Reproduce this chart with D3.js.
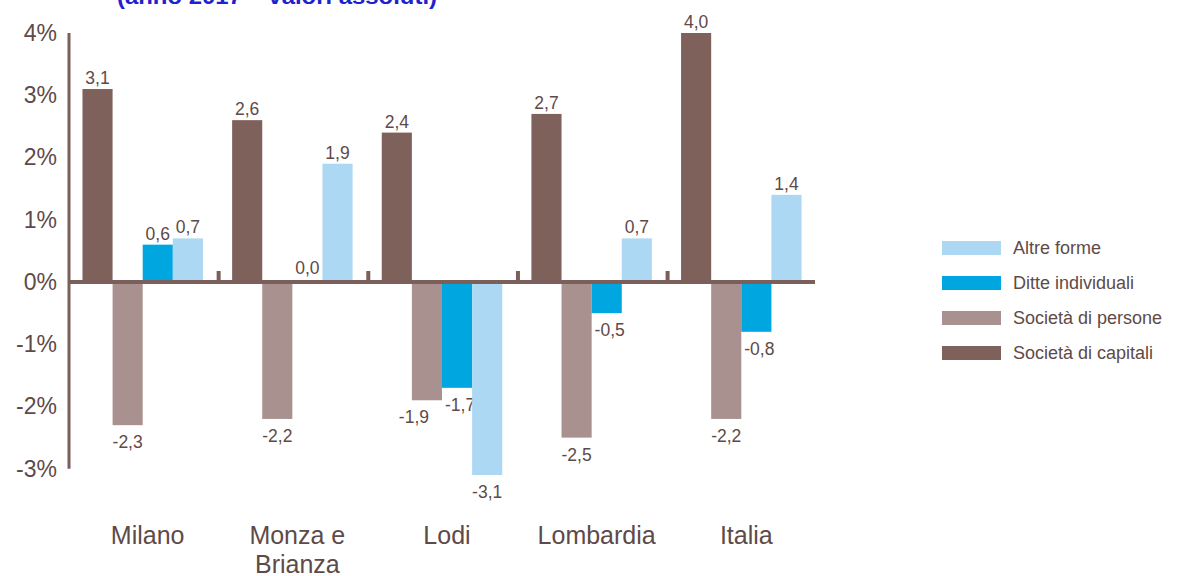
<!DOCTYPE html>
<html>
<head>
<meta charset="utf-8">
<script src="https://cdn.jsdelivr.net/npm/d3@7"></script>
<style>
	body { margin: 0; background: #fff; }
	text { font-family: "Liberation Sans", Arial, sans-serif; }
</style>
</head>
<body>
<div id="chart"></div>
<script>
// data
var categories = ["Milano", "Monza e Brianza", "Lodi", "Lombardia", "Italia"];
var capitali = [3.1, 2.6, 2.4, 2.7, 4.0];
var persone = [-2.3, -2.2, -1.9, -2.5, -2.2];
var ditte = [0.6, 0.0, -1.7, -0.5, -0.8];
var altre = [0.7, 1.9, -3.1, 0.7, 1.4];
var yTicks = [-3, -2, -1, 0, 1, 2, 3, 4];

var series = [
	{key: "capitali", name: "Società di capitali", values: capitali, color: "#7f615c"},
	{key: "persone", name: "Società di persone", values: persone, color: "#a8918e"},
	{key: "ditte", name: "Ditte individuali", values: ditte, color: "#00a6e0"},
	{key: "altre", name: "Altre forme", values: altre, color: "#acd8f3"}
];
var legendOrder = ["altre", "ditte", "persone", "capitali"];

var W = 1187, H = 576;
var axisColor = "#7a5f5a";
var textColor = "#5e4a48";

var svg = d3.select("#chart").append("svg")
	.attr("width", W)
	.attr("height", H);

// title, cut off at the top edge
svg.append("text")
	.attr("x", 117)
	.attr("y", 4)
	.attr("textLength", 320)
	.attr("lengthAdjust", "spacingAndGlyphs")
	.attr("fill", "#1f22cc")
	.attr("font-weight", "bold")
	.attr("font-size", 22)
	.text("(anno 2017 – valori assoluti)");

var y = d3.scaleLinear().domain([-3, 4]).range([468.75, 33]);

var x0 = d3.scaleBand()
	.domain(categories)
	.range([69, 815])
	.paddingInner(0.195)
	.paddingOuter(0.09);

var x1 = d3.scaleBand()
	.domain(series.map(function (s) { return s.key; }))
	.range([0, x0.bandwidth()]);

var fmt = function (v) {
	return d3.format(".1f")(v).replace(".", ",").replace("−", "-");
};

// bars
var groups = svg.append("g").selectAll("g")
	.data(categories)
	.enter().append("g")
	.attr("transform", function (c) { return "translate(" + x0(c) + ",0)"; });

groups.each(function (c, i) {
	var g = d3.select(this);
	series.forEach(function (s) {
		var v = s.values[i];
		g.append("rect")
			.attr("x", x1(s.key))
			.attr("width", x1.bandwidth())
			.attr("y", v >= 0 ? y(v) : y(0))
			.attr("height", Math.abs(y(v) - y(0)))
			.attr("fill", s.color);

		var dx = 0;
		if (s.key == "persone" && c == "Lodi") dx = -13;
		if (s.key == "ditte" && v < 0) dx = 3;
		g.append("text")
			.attr("x", x1(s.key) + x1.bandwidth() / 2 + dx)
			.attr("y", v > 0 ? y(v) - 5 : (v == 0 ? y(0) - 8 : y(v) + 23))
			.attr("text-anchor", "middle")
			.attr("font-size", 17.5)
			.attr("fill", textColor)
			.text(fmt(v));
	});
});

// zero line
svg.append("line")
	.attr("x1", 69).attr("x2", 815)
	.attr("y1", y(0)).attr("y2", y(0))
	.attr("stroke", axisColor)
	.attr("stroke-width", 4);

// small ticks between groups
var step = x0.step();
svg.append("g").selectAll("line")
	.data(d3.range(1, categories.length))
	.enter().append("line")
	.attr("x1", function (i) { return 69 + i * step; })
	.attr("x2", function (i) { return 69 + i * step; })
	.attr("y1", y(0) - 11)
	.attr("y2", y(0))
	.attr("stroke", axisColor)
	.attr("stroke-width", 4);

// y axis
var yAxis = svg.append("g")
	.attr("transform", "translate(69,0)")
	.call(d3.axisLeft(y).tickValues(yTicks).tickSize(0).tickPadding(12)
		.tickFormat(function (d) { return d + "%"; }));
yAxis.select(".domain").remove();
yAxis.selectAll("text")
	.attr("font-size", 23)
	.attr("fill", textColor)
	.attr("font-family", "Liberation Sans, Arial, sans-serif");

svg.append("line")
	.attr("x1", 69).attr("x2", 69)
	.attr("y1", y(4)).attr("y2", y(-3))
	.attr("stroke", axisColor)
	.attr("stroke-width", 3);

// category labels
svg.append("g").selectAll("text")
	.data(categories)
	.enter().append("text")
	.attr("x", function (c) { return x0(c) + x0.bandwidth() / 2 + 5; })
	.attr("y", 544)
	.attr("text-anchor", "middle")
	.attr("font-size", 25)
	.attr("fill", textColor)
	.each(function (c) {
		var t = d3.select(this);
		var lines = c == "Monza e Brianza" ? ["Monza e", "Brianza"] : [c];
		lines.forEach(function (l, k) {
			t.append("tspan")
				.attr("x", t.attr("x"))
				.attr("dy", k == 0 ? 0 : 29)
				.text(l);
		});
	});

// legend
var legend = svg.append("g").selectAll("g")
	.data(legendOrder.map(function (k) { return series.find(function (s) { return s.key == k; }); }))
	.enter().append("g")
	.attr("transform", function (d, i) { return "translate(942," + (241 + i * 35) + ")"; });

legend.append("rect")
	.attr("width", 59)
	.attr("height", 14)
	.attr("fill", function (d) { return d.color; });

legend.append("text")
	.attr("x", 71)
	.attr("y", 13)
	.attr("font-size", 18)
	.attr("fill", textColor)
	.text(function (d) { return d.name; });
</script>
</body>
</html>
